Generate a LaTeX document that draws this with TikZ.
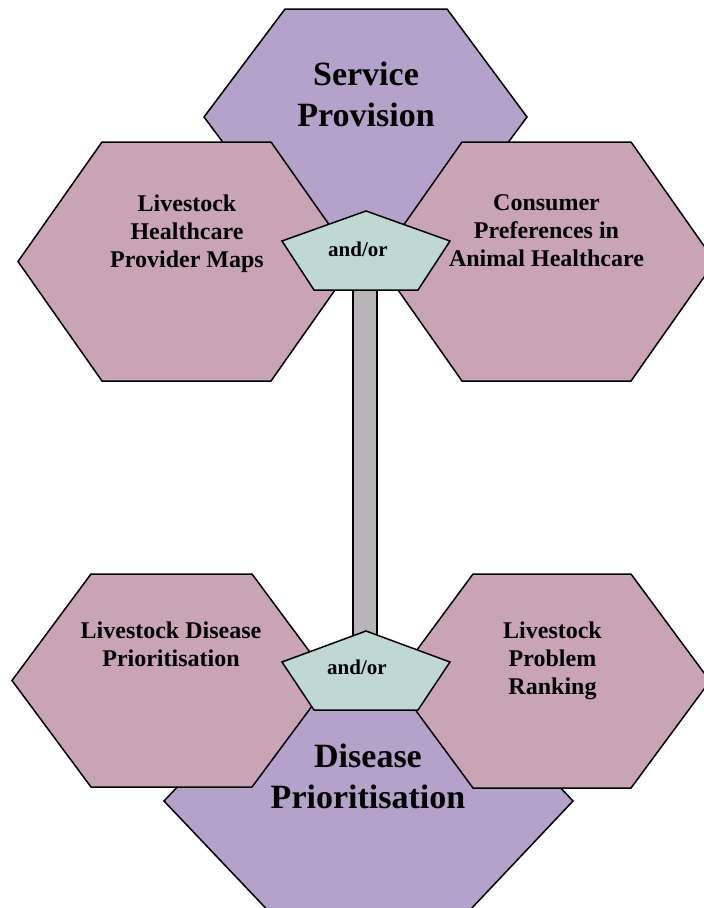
\documentclass[tikz,border=0pt]{standalone}
\usepackage{fontspec}
\setmainfont{Liberation Serif}
\definecolor{themepurple}{RGB}{180,162,202}
\definecolor{methodmauve}{RGB}{201,164,181}
\definecolor{joinergreen}{RGB}{192,216,211}
\definecolor{stemgray}{RGB}{183,181,184}
\begin{document}
\begin{tikzpicture}[x=1pt,y=-1pt,
  outline/.style={draw=black,line width=1.5pt,line join=miter},
  themehex/.style={outline,fill=themepurple},
  methodhex/.style={outline,fill=methodmauve},
  joiner/.style={outline,fill=joinergreen},
  stem/.style={outline,fill=stemgray},
  % multi-line labels are placed by the baseline of their last line
  themetext/.style={font=\fontsize{34}{41}\selectfont\bfseries,align=center,anchor=base,inner sep=0pt},
  methodtext/.style={font=\fontsize{24}{28}\selectfont\bfseries,align=center,anchor=base,inner sep=0pt},
  jointext/.style={font=\fontsize{21}{25}\selectfont\bfseries,anchor=base,inner sep=0pt}]
\useasboundingbox (0,0) rectangle (704,908);
\clip (0,0) rectangle (704,908);

% ---- upper cluster: Service Provision ----
\draw[themehex] (204,117) -- (285,9) -- (447,9) -- (527,117) -- (447,225) -- (285,225) -- cycle;
\draw[methodhex] (18,261.5) -- (102,142) -- (271,142) -- (355,261.5) -- (271,381) -- (102,381) -- cycle;
\draw[methodhex] (378,261.5) -- (462,142) -- (631,142) -- (715,261.5) -- (631,381) -- (462,381) -- cycle;

% ---- lower cluster: Disease Prioritisation ----
\draw[themehex] (164,801) -- (267.5,692) -- (470,692) -- (573,801) -- (470,910) -- (267.5,910) -- cycle;
\draw[methodhex] (12,680.5) -- (91,574) -- (252,574) -- (331,680.5) -- (252,787) -- (91,787) -- cycle;
\draw[methodhex] (394,681) -- (473,574) -- (631,574) -- (710,681) -- (631,788) -- (473,788) -- cycle;

% ---- stem linking the two joiners ----
\coordinate (stemTop) at (353,280);
\coordinate (stemBot) at (377,645);
\draw[stem] (stemTop) rectangle (stemBot);

% ---- joiners ----
\draw[joiner] (366,211) -- (450,241) -- (418,290) -- (314,290) -- (282,241) -- cycle;
\draw[joiner] (366,631) -- (450,662) -- (418,710) -- (314,710) -- (282,662) -- cycle;

% ---- labels ----
\node[themetext] (spTitle) at (366,126) {Service\\Provision};
\node[methodtext] (lhpmLabel) at (187,267) {Livestock\\Healthcare\\Provider Maps};
\node[methodtext] (cpahLabel) at (546.5,266) {Consumer\\Preferences in\\Animal Healthcare};
\node[methodtext] (ldpLabel) at (171,666) {Livestock Disease\\Prioritisation};
\node[methodtext] (lprLabel) at (552.5,694) {Livestock\\Problem\\Ranking};
\node[themetext] (dpTitle) at (368,808) {Disease\\Prioritisation};
\node[jointext] (andTop) at (358,256) {and/or};
\node[jointext] (andBot) at (357,674) {and/or};
\end{tikzpicture}
\end{document}
